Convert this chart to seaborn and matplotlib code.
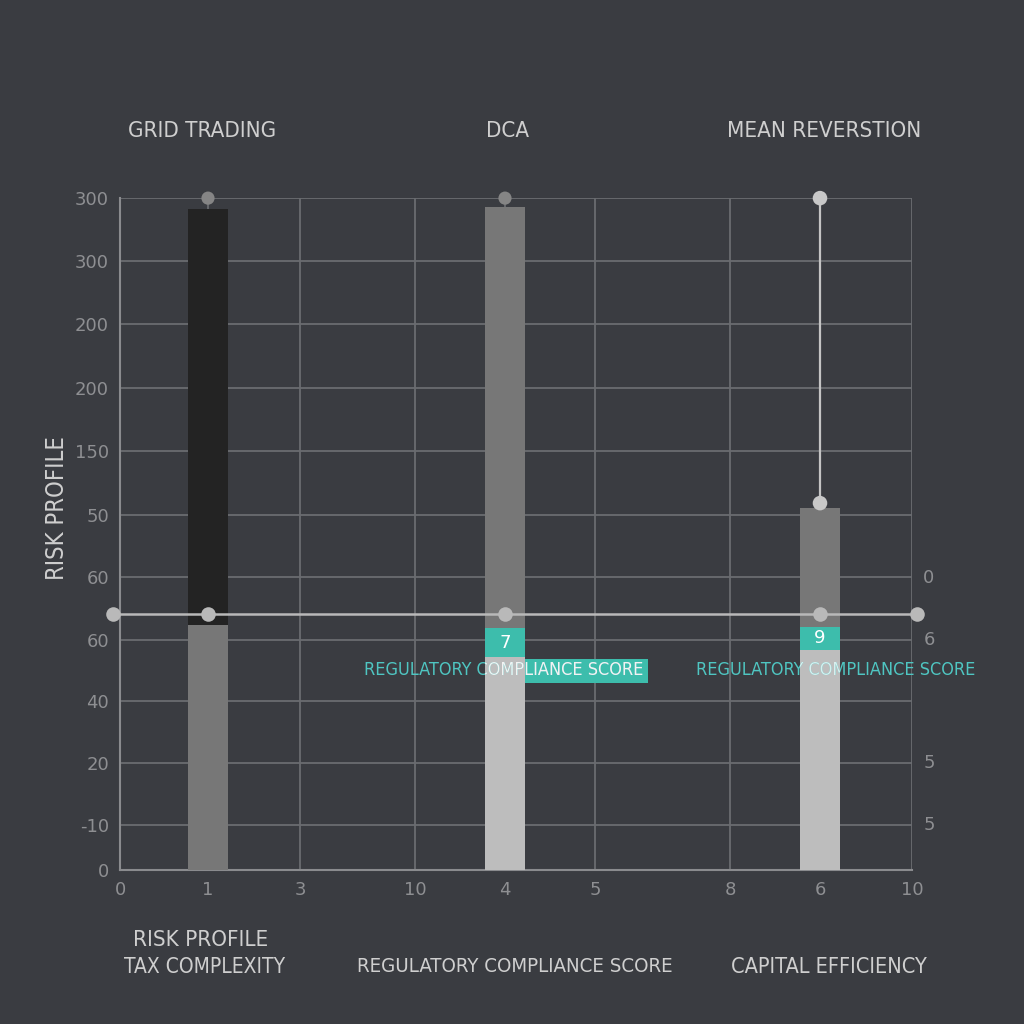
import numpy as np
import pandas as pd
import matplotlib
matplotlib.use("Agg")
import matplotlib.pyplot as plt
from matplotlib.patches import Rectangle
import seaborn as sns

# ---------------- data ----------------
strategies = ["GRID TRADING", "DCA", "MEAN REVERSTION"]
total_height = [10.58, 10.61, 5.79]      # upper segment top
teal_top = [0.0, 3.87, 3.89]             # teal badge top
base_height = [3.92, 3.41, 3.52]         # lower segment top
badge_values = ["", "7", "9"]
marker_top = [10.75, 10.75, 10.75]
mr_marker_low = 5.87
line_level = 4.10
x_tick_labels = ["0", "1", "3", "10", "4", "5", "8", "6", "10"]
y_tick_labels = ["0", "-10", "20", "40", "60", "60", "50", "150", "200", "200", "300", "300"]
right_labels = ["0", "6", "5", "5"]
bottom_labels = ["TAX COMPLEXITY", "REGULATORY COMPLIANCE SCORE", "CAPITAL EFFICIENCY"]
annot_text = "REGULATORY COMPLIANCE SCORE"

# ---------------- layout ----------------
px = lambda p: (p - 120) / 79.2           # pixel -> x data
py = lambda p: (870 - p) / 62.5           # pixel -> y data
bar_x = [px(208), px(505), px(820)]
x_ticks = [px(p) for p in [120, 208, 300, 415, 505, 595, 730, 820, 912]]
y_ticks = [py(p) for p in [870, 825, 763, 701, 640, 577, 515, 451, 388, 324, 261, 198]]
right_y = [py(p) for p in [578, 640, 763, 825]]

BG = "#3a3c41"
GRID = "#6a6c70"
TICK = "#8e8f92"
TXT = "#cfcfcf"
TEAL = "#3dbdac"
TEAL_TXT = "#4fc6c2"
COND = "condensed"

sns.set_theme(style="dark", rc={
    "figure.facecolor": BG, "axes.facecolor": BG, "savefig.facecolor": BG,
    "axes.edgecolor": GRID, "grid.color": GRID,
})
plt.rcParams["font.family"] = ["DejaVu Sans"]

fig = plt.figure(figsize=(10.24, 10.24), dpi=100)
ax = fig.add_axes([120 / 1024, 1 - 870 / 1024, 792 / 1024, 672 / 1024])

df = pd.DataFrame({"x": bar_x, "strategy": strategies,
                   "total": total_height, "teal": teal_top, "base": base_height})
bw = px(160)                               # 40 px bar width in data units
wfrac = bw / (min(np.diff(bar_x)))

def layer(col, colors):
    sns.barplot(data=df, x="x", y=col, hue="strategy",
                palette=dict(zip(strategies, colors)), native_scale=True,
                dodge=False, width=wfrac, errorbar=None, saturation=1,
                linewidth=0, legend=False, ax=ax, zorder=3)

layer("total", ["#232323", "#777777", "#777777"])
layer("teal", [TEAL, TEAL, TEAL])
layer("base", ["#777777", "#bdbdbd", "#bdbdbd"])

# horizontal connector line with dots
hl = pd.DataFrame({"x": [px(113), px(917)], "y": [line_level, line_level]})
sns.lineplot(data=hl, x="x", y="y", color="#b9b9b9", linewidth=1.8, ax=ax,
             estimator=None, sort=False, zorder=5, clip_on=False)
dots = pd.DataFrame({"x": [px(113)] + bar_x + [px(917)],
                     "y": [line_level] * 5})
sns.scatterplot(data=dots, x="x", y="y", color="#b9b9b9", s=110, linewidth=0,
                ax=ax, zorder=6, clip_on=False)
# vertical line for mean reversion
vl = pd.DataFrame({"x": [bar_x[2], bar_x[2]], "y": [marker_top[2], mr_marker_low]})
sns.lineplot(data=vl, x="x", y="y", color="#c4c4c4", linewidth=1.6, ax=ax,
             estimator=None, sort=False, zorder=5, clip_on=False)
top_dots = pd.DataFrame({"x": bar_x + [bar_x[2]],
                         "y": marker_top + [mr_marker_low]})
sns.scatterplot(data=top_dots, x="x", y="y", hue=["a", "b", "c", "d"],
                palette={"a": "#858585", "b": "#858585", "c": "#c8c8c8", "d": "#c8c8c8"},
                size=["a", "b", "c", "d"], sizes={"a": 90, "b": 90, "c": 110, "d": 110},
                linewidth=0, legend=False, ax=ax, zorder=6, clip_on=False)

# badges numbers
for xi, lo, hi, v in zip(bar_x, base_height, teal_top, badge_values):
    if v:
        ax.text(xi, (lo + hi) / 2, v, color="white", ha="center", va="center",
                fontsize=13, zorder=8)

# annotation texts
ANN_FS = 13
a1 = dict(x=px(504), y=py(670))
a2 = dict(x=px(836), y=py(670))
box = Rectangle((px(525), py(683)), px(648) - px(525), py(659) - py(683),
                facecolor=TEAL, edgecolor="none", zorder=6)
ax.add_patch(box)
for a in (a1, a2):
    ax.text(a["x"], a["y"], annot_text, color=TEAL_TXT, ha="center", va="center",
            fontsize=ANN_FS, fontstretch=COND, zorder=7, clip_on=False)
# white parts of text over bars / box
clip_rects = [
    Rectangle((bar_x[1] - bw / 2, 0), bw, 11, transform=ax.transData),
    Rectangle((px(525), py(683)), px(648) - px(525), py(659) - py(683), transform=ax.transData),
    Rectangle((bar_x[2] - bw / 2, 0), bw, 11, transform=ax.transData),
]
for a, r, c in [(a1, clip_rects[0], "#f2f2f2"), (a1, clip_rects[1], "#f2f2f2"),
                (a2, clip_rects[2], "#d8eeee")]:
    t = ax.text(a["x"], a["y"], annot_text, color=c, ha="center", va="center",
                fontsize=ANN_FS, fontstretch=COND, zorder=8, clip_on=True)
    t.set_clip_path(r)

# right side labels
for yv, lab in zip(right_y, right_labels):
    ax.text(px(929), yv, lab, color=TICK, ha="center", va="center", fontsize=13,
            clip_on=False)

# axes formatting
ax.set_xlim(0, 10)
ax.set_ylim(0, py(198))
ax.set_xticks(x_ticks)
ax.set_xticklabels(x_tick_labels, color=TICK, fontsize=13)
ax.set_yticks(y_ticks)
ax.set_yticklabels(y_tick_labels, color=TICK, fontsize=13)
ax.tick_params(axis="both", length=0, pad=8)
ax.grid(True, color=GRID, linewidth=1.3, zorder=0)
ax.set_axisbelow(True)
for s in ["top", "right"]:
    ax.spines[s].set_visible(False)
for s in ["left", "bottom"]:
    ax.spines[s].set_color("#8a8b8e")
    ax.spines[s].set_linewidth(1.5)
ax.set_xlabel("")
ax.set_ylabel("")

# titles and labels
title_x = [202, 508, 824]
for tx, lab in zip(title_x, strategies):
    fig.text(tx / 1024, 1 - 131 / 1024, lab, color=TXT, ha="center", va="center",
             fontsize=16, fontstretch=COND)
fig.text(57 / 1024, 1 - 508 / 1024, "RISK PROFILE", color=TXT, rotation=90,
         ha="center", va="center", fontsize=17, fontstretch=COND)
fig.text(201 / 1024, 1 - 940 / 1024, "RISK PROFILE", color=TXT, ha="center",
         va="center", fontsize=16, fontstretch=COND)
for tx, lab, fs in zip([205, 515, 829], bottom_labels, [15, 14.7, 15.6]):
    fig.text(tx / 1024, 1 - 967 / 1024, lab, color=TXT, ha="center", va="center",
             fontsize=fs, fontstretch=COND)

fig.savefig("out.png", dpi=100, facecolor=BG)
